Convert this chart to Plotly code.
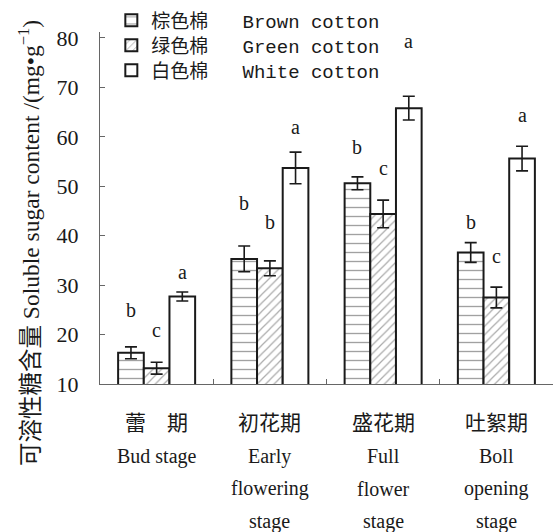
import plotly.graph_objects as go

# ---- data ----
stages_cn = ["蕾\u3000期", "初花期", "盛花期", "吐絮期"]
stages_en = [["Bud stage"], ["Early", "flowering", "stage"], ["Full", "flower", "stage"], ["Boll", "opening", "stage"]]
categories = ["Bud", "Early", "Full", "Boll"]

brown = [16.3, 35.3, 50.6, 36.6]
brown_err = [1.2, 2.6, 1.3, 2.0]
green = [13.2, 33.4, 44.4, 27.5]
green_err = [1.2, 1.5, 2.8, 2.1]
white = [27.7, 53.7, 65.8, 55.6]
white_err = [0.9, 3.2, 2.4, 2.5]

brown_letters = ["b", "b", "b", "b"]
green_letters = ["c", "b", "c", "c"]
white_letters = ["a", "a", "a", "a"]
# heights (data units) at which the significance letters sit
brown_letter_y = [25.0, 46.7, 58.0, 42.8]
green_letter_y = [21.0, 42.8, 53.6, 35.8]
white_letter_y = [32.7, 62.0, 79.4, 64.5]

series_names = ["棕色棉\u00a0\u00a0\u00a0Brown cotton",
                "绿色棉\u00a0\u00a0\u00a0Green cotton",
                "白色棉\u00a0\u00a0\u00a0White cotton"]
y_ticks = [10, 20, 30, 40, 50, 60, 70, 80]

# ---- layout constants ----
W, H = 553, 532
ML, MR, MT, MB = 100, 0, 32, 148
BARGAP = 0.32
plot_w = W - ML - MR
plot_h = H - MT - MB
group_px = plot_w / len(categories)
bar_px = group_px * (1 - BARGAP) / 3

serif = "Liberation Serif, Times New Roman, serif"
cjk = "Noto Sans CJK SC"
ink = "#1a1a1a"

fig = go.Figure()
patterns = [
    dict(shape="-", fgcolor="#444", bgcolor="white", size=9, solidity=0.15),
    dict(shape="/", fgcolor="#555", bgcolor="white", size=6, solidity=0.2),
    dict(shape="", fgcolor="#444", bgcolor="white"),
]
legend_ids = ["legend", "legend2", "legend3"]
for name, vals, errs, pat, lg in zip(series_names, [brown, green, white],
                                     [brown_err, green_err, white_err], patterns, legend_ids):
    fig.add_trace(go.Bar(
        x=categories, y=vals, name=name, legend=lg,
        marker=dict(color="white", pattern=pat, line=dict(color=ink, width=2)),
        error_y=dict(type="data", array=errs, visible=True, color=ink, thickness=1.6, width=6),
    ))

# significance letters
for k, (letters, ys) in enumerate([(brown_letters, brown_letter_y),
                                   (green_letters, green_letter_y),
                                   (white_letters, white_letter_y)]):
    for cat, lt, yy in zip(categories, letters, ys):
        fig.add_annotation(x=cat, y=yy, text=lt, showarrow=False, xref="x", yref="y",
                           xshift=(k - 1) * bar_px, yanchor="middle",
                           font=dict(family=serif, size=20, color=ink))

# x category labels (multi-line)
for cat, cn, en in zip(categories, stages_cn, stages_en):
    fig.add_annotation(x=cat, y=0, xref="x", yref="paper", text=cn, showarrow=False,
                       yanchor="middle", yshift=-37, font=dict(family=cjk, size=21, color=ink))
    for i, line in enumerate(en):
        fig.add_annotation(x=cat, y=0, xref="x", yref="paper", text=line, showarrow=False,
                           yanchor="middle", yshift=-(72 + 32.5 * i),
                           font=dict(family=serif, size=20, color=ink))

# y-axis title
fig.add_annotation(
    xref="paper", yref="paper", x=(29 - ML) / plot_w, y=(H - MB - 243) / plot_h,
    text="可溶性糖含量 Soluble sugar content /(mg•g<sup>−1</sup>)",
    textangle=-90, showarrow=False, xanchor="center", yanchor="middle",
    font=dict(family=serif + ", " + cjk, size=23.5, color=ink))

legend_style = dict(x=0.025, xanchor="left", yanchor="top", bgcolor="rgba(0,0,0,0)",
                    font=dict(family="Liberation Mono, " + cjk, size=19, color=ink),
                    itemwidth=30)
row_centers = [22, 47, 72]  # pixel rows of the legend entries
legends = {}
for lg, rc in zip(legend_ids, row_centers):
    legends[lg] = dict(legend_style, y=1 + (MT - (rc - 20.5)) / plot_h)

fig.update_layout(
    width=W, height=H,
    margin=dict(l=ML, r=MR, t=MT, b=MB, autoexpand=False),
    paper_bgcolor="white", plot_bgcolor="white",
    barmode="group", bargap=BARGAP, bargroupgap=0,
    showlegend=True,
    xaxis=dict(showline=True, linecolor="#666", linewidth=1, showticklabels=False,
               ticks="inside", ticklen=5, tickcolor="#666", tickson="boundaries",
               showgrid=False, zeroline=False),
    yaxis=dict(range=[10, 81.2], tickvals=y_ticks, ticks="inside", ticklen=5,
               tickcolor="#666", showline=True, linecolor="#666", linewidth=1,
               showgrid=False, zeroline=False, ticklabelstandoff=16,
               tickfont=dict(family=serif, size=22, color=ink)),
    **legends,
)

fig.write_html("out.html", config={"displayModeBar": False},
               post_script="document.body.style.margin='0';")
